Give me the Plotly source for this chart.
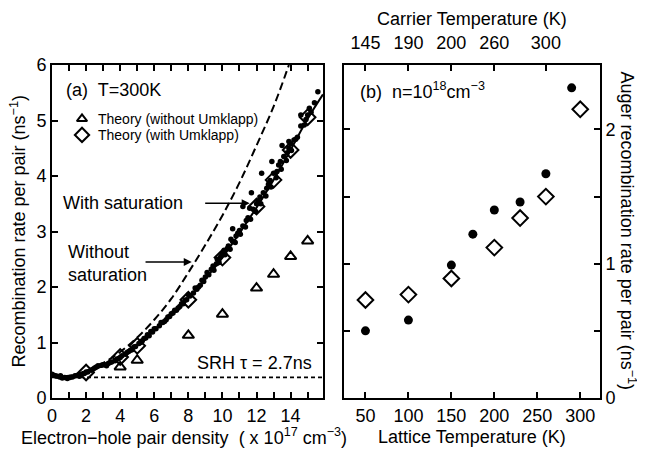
import plotly.graph_objects as go

# ---------------- data: panel (a) ----------------
dots_x = [0.0,0.1,0.2,0.3,0.45,0.6,0.75,0.9,1.05,1.2,1.35,1.5,1.7,1.9,2.1,2.3,2.5,2.7,2.9,3.1,
          3.3,3.5,3.7,3.9,4.1,4.3,4.5,4.7,4.9,5.1,5.3,5.5,5.7,5.9,6.1,6.3,6.5,6.7,6.9,7.1,
          7.3,7.5,7.7,7.9,8.1,8.3,8.5,8.7,8.9,9.0,9.2,9.35,9.5,9.65,9.8,10.0,10.15,10.3,10.45,10.6,
          10.75,10.9,11.05,11.2,11.35,11.5,11.65,11.8,11.95,12.1,12.25,12.4,12.55,12.7,12.85,13.0,13.15,13.3,13.45,13.6,
          13.75,13.9,14.05,14.2,14.4,14.6,14.8,15.0,15.2,15.4,15.6,
          12.3,12.9,13.5,13.9,11.7,11.2,10.6,14.6,15.1,
          6.0,6.4,6.8,7.2,7.6,8.0,8.4,8.8,9.1,9.45,9.9,10.35,10.8,11.4,12.0,12.6,13.2,13.8,14.3,14.9,
          2.0,2.6,3.0,3.4,3.8,4.4,4.8,5.2,5.6,
          0.5,1.6,2.4,3.2,4.0,4.6,5.4,5.8,6.6,7.0,7.4,7.8,8.6,9.7,10.1,10.5,11.0,11.6,12.2,12.8,13.4,14.0]
dots_y = [0.43,0.41,0.40,0.39,0.38,0.36,0.37,0.35,0.37,0.38,0.40,0.41,0.42,0.44,0.47,0.50,0.54,0.58,0.59,0.60,
          0.62,0.65,0.67,0.71,0.76,0.79,0.84,0.87,0.93,0.98,1.03,1.08,1.12,1.19,1.25,1.30,1.36,1.41,1.47,1.53,
          1.58,1.65,1.70,1.77,1.84,1.89,1.96,2.03,2.10,2.18,2.22,2.32,2.30,2.42,2.44,2.60,2.58,2.70,2.68,2.82,
          2.80,2.97,2.95,3.10,3.08,3.25,3.22,3.40,3.36,3.55,3.50,3.70,3.64,3.85,3.80,4.05,3.97,4.20,4.12,4.35,
          4.28,4.50,4.46,4.65,4.70,4.90,4.92,5.10,5.15,5.32,5.52,
          4.05,4.26,4.55,4.62,3.70,3.45,3.05,5.10,5.22,
          1.25,1.36,1.46,1.58,1.70,1.86,1.98,2.12,2.26,2.38,2.55,2.74,2.92,3.20,3.50,3.78,4.08,4.42,4.66,5.02,
          0.47,0.56,0.60,0.64,0.70,0.82,0.92,1.00,1.14,
          0.40,0.39,0.52,0.58,0.73,0.86,1.07,1.20,1.38,1.52,1.62,1.76,2.00,2.50,2.66,2.86,3.02,3.42,3.62,3.92,4.26,4.58]

sat_x = [0, 0.5, 1, 1.5, 2, 3, 4, 5, 6, 7, 8, 9, 10, 11, 12, 13, 14, 15, 15.9]
sat_y = [0.42, 0.39, 0.37, 0.40, 0.46, 0.58, 0.74, 0.95, 1.22, 1.50, 1.80, 2.15, 2.53, 2.97, 3.43, 3.93, 4.47, 5.03, 5.47]

nosat_x = [0, 1, 2, 3, 4, 5, 6, 7, 8, 9, 10, 11, 12, 13, 13.9]
nosat_y = [0.40, 0.40, 0.49, 0.63, 0.83, 1.09, 1.41, 1.79, 2.26, 2.76, 3.29, 3.88, 4.55, 5.25, 6.0]

srh_x = [0, 15.9]
srh_y = [0.37, 0.37]

tri_x = [4, 5, 8, 10, 12, 13, 14, 15]
tri_y = [0.56, 0.68, 1.13, 1.51, 1.98, 2.23, 2.55, 2.83]

dia_x = [2, 4, 5, 8, 10, 12, 13, 14, 15]
dia_y = [0.46, 0.74, 0.94, 1.77, 2.53, 3.45, 3.93, 4.47, 5.06]

# ---------------- data: panel (b) ----------------
exp_T = [50, 100, 150, 175, 200, 230, 260, 290]
exp_R = [0.50, 0.58, 0.99, 1.22, 1.40, 1.46, 1.67, 2.31]
th_T = [50, 100, 150, 200, 230, 260, 300]
th_R = [0.73, 0.77, 0.89, 1.12, 1.34, 1.50, 2.15]

carrier_pos = [50, 100, 150, 200, 260]
carrier_lbl = ["145", "190", "200", "260", "300"]

xa_ticks = list(range(0, 16))
xa_text = [str(v) if v % 2 == 0 else "" for v in xa_ticks]
yb_ticks = [0, 0.5, 1, 1.5, 2]
yb_text = ["0", "", "1", "", "2"]

FONT = "Liberation Sans, Arial, Helvetica, sans-serif"

fig = go.Figure()

fig.add_trace(go.Scatter(x=srh_x, y=srh_y, mode="lines",
                         line=dict(color="black", width=1.8, dash="4px,3px"),
                         xaxis="x", yaxis="y", showlegend=False))
fig.add_trace(go.Scatter(x=nosat_x, y=nosat_y, mode="lines",
                         line=dict(color="black", width=2, dash="8px,4px", shape="spline"),
                         xaxis="x", yaxis="y", showlegend=False))
fig.add_trace(go.Scatter(x=sat_x, y=sat_y, mode="lines",
                         line=dict(color="black", width=2, shape="spline"),
                         xaxis="x", yaxis="y", showlegend=False))
fig.add_trace(go.Scatter(x=dots_x, y=dots_y, mode="markers",
                         marker=dict(color="black", size=5.5),
                         xaxis="x", yaxis="y", showlegend=False))
fig.add_trace(go.Scatter(x=tri_x, y=tri_y, mode="markers",
                         marker=dict(symbol="triangle-up-open", color="black", size=10,
                                     line=dict(width=2)),
                         xaxis="x", yaxis="y", showlegend=False))
fig.add_trace(go.Scatter(x=dia_x, y=dia_y, mode="markers",
                         marker=dict(symbol="diamond-open", color="black", size=12,
                                     line=dict(width=2)),
                         xaxis="x", yaxis="y", showlegend=False))
# legend symbols inside panel (a)
fig.add_trace(go.Scatter(x=[1.76], y=[5.03], mode="markers",
                         marker=dict(symbol="triangle-up-open", color="black", size=9,
                                     line=dict(width=2)),
                         xaxis="x", yaxis="y", showlegend=False))
fig.add_trace(go.Scatter(x=[1.76], y=[4.74], mode="markers",
                         marker=dict(symbol="diamond-open", color="black", size=11,
                                     line=dict(width=2)),
                         xaxis="x", yaxis="y", showlegend=False))

# panel (b)
fig.add_trace(go.Scatter(x=exp_T, y=exp_R, mode="markers",
                         marker=dict(color="black", size=9),
                         xaxis="x2", yaxis="y2", showlegend=False))
fig.add_trace(go.Scatter(x=th_T, y=th_R, mode="markers",
                         marker=dict(symbol="diamond-open", color="black", size=12,
                                     line=dict(width=2)),
                         xaxis="x2", yaxis="y2", showlegend=False))
fig.add_trace(go.Scatter(x=[carrier_pos[0]], y=[-1], mode="markers",
                         marker=dict(opacity=0), xaxis="x3", yaxis="y2",
                         showlegend=False, hoverinfo="skip"))

axis_common = dict(showline=True, linecolor="black", linewidth=2, ticks="inside",
                   ticklen=6, tickwidth=1.5, tickcolor="black", showgrid=False,
                   zeroline=False, automargin=False,
                   tickfont=dict(size=18, color="black", family=FONT))

fig.update_layout(
    width=637, height=445,
    margin=dict(l=44, r=45, t=57, b=55),
    paper_bgcolor="white", plot_bgcolor="white",
    font=dict(family=FONT, color="black", size=18),
    xaxis=dict(domain=[0, 0.4945], range=[0, 15.9], tickvals=xa_ticks, ticktext=xa_text,
               mirror="ticks", anchor="y", **axis_common),
    yaxis=dict(domain=[0, 1], range=[0, 6], tickvals=[0, 1, 2, 3, 4, 5, 6],
               mirror="ticks", anchor="x", **axis_common),
    xaxis2=dict(domain=[0.5328, 1], range=[25, 323], tickvals=[50, 100, 150, 200, 250, 300],
                mirror=True, anchor="y2", **axis_common),
    xaxis3=dict(overlaying="x2", side="top", range=[25, 323], tickvals=carrier_pos,
                ticktext=carrier_lbl, anchor="y2", ticklabelstandoff=7, **axis_common),
    yaxis2=dict(domain=[0, 1], range=[0, 2.48], tickvals=yb_ticks, ticktext=yb_text,
                side="right", mirror="ticks", anchor="x2", **axis_common),
)

ann = []
def txt(x, y, s, size=18, xanchor="left", xref="x", yref="y", angle=0, yanchor="middle"):
    ann.append(dict(x=x, y=y, text=s, xref=xref, yref=yref, showarrow=False,
                    xanchor=xanchor, yanchor=yanchor, textangle=angle,
                    font=dict(size=size, color="black", family=FONT)))

txt(0.7, 5.55, "(a)  T=300K")
txt(2.6, 5.03, "Theory (without Umklapp)", size=14)
txt(2.6, 4.74, "Theory (with Umklapp)", size=14)
txt(0.55, 3.51, "With saturation")
ann.append(dict(x=0.8, y=2.43, text="Without<br>saturation", xref="x", yref="y",
                showarrow=False, xanchor="left", yanchor="middle", align="left",
                font=dict(size=18, color="black", family=FONT)))
txt(11.9, 0.63, "SRH τ = 2.7ns", xanchor="center")
# arrows
ann.append(dict(x=11.6, y=3.51, ax=8.9, ay=3.51, xref="x", yref="y", axref="x", ayref="y",
                showarrow=True, arrowhead=2, arrowsize=1, arrowwidth=1.6, arrowcolor="black", text=""))
ann.append(dict(x=8.2, y=2.45, ax=5.4, ay=2.45, xref="x", yref="y", axref="x", ayref="y",
                showarrow=True, arrowhead=2, arrowsize=1, arrowwidth=1.6, arrowcolor="black", text=""))
# panel (b) label
txt(41, 2.29, "(b)  n=10<sup>18</sup>cm<sup>−3</sup>", xref="x2", yref="y2")
# axis titles
txt(0.241, -0.117, "Electron−hole pair density  ( x 10<sup>17</sup> cm<sup>−3</sup>)",
    xanchor="center", xref="paper", yref="paper")
txt(0.767, -0.117, "Lattice Temperature (K)", xanchor="center", xref="paper", yref="paper")
txt(0.766, 1.138, "Carrier Temperature (K)", xanchor="center", xref="paper", yref="paper")
txt(-0.062, 0.5, "Recombination rate per pair (ns<sup>−1</sup>)", xanchor="center",
    xref="paper", yref="paper", angle=-90)
txt(1.051, 0.5, "Auger recombination rate per pair (ns<sup>−1</sup>)", xanchor="center",
    xref="paper", yref="paper", angle=90)

fig.update_layout(annotations=ann)
fig.write_html("out.html")
